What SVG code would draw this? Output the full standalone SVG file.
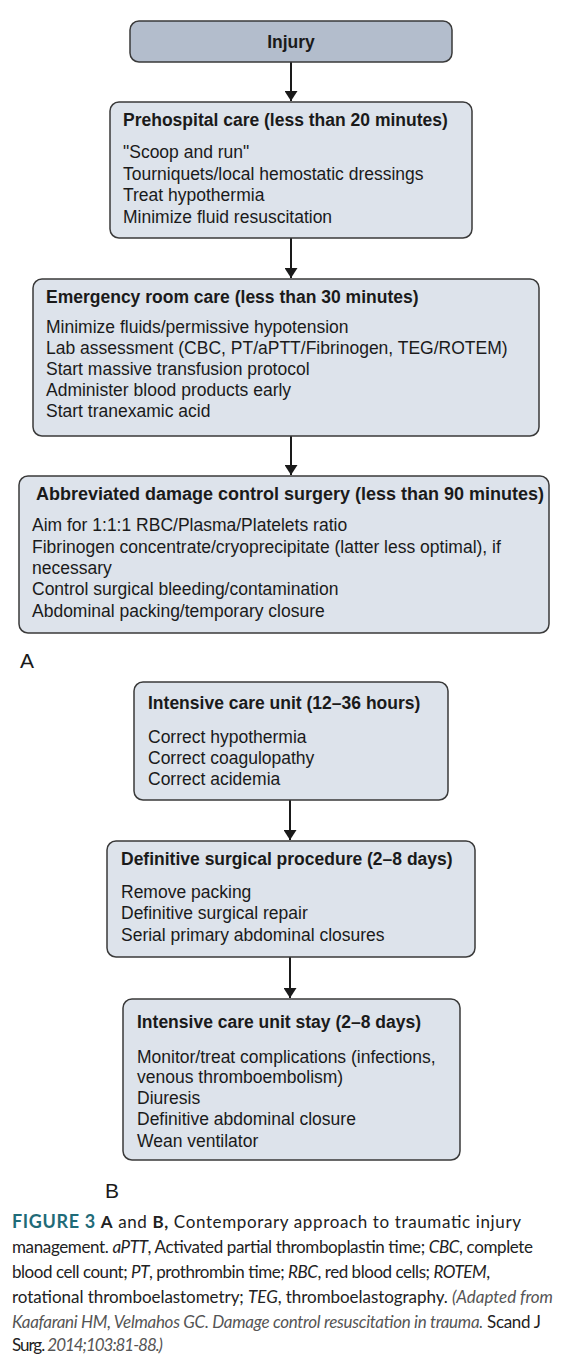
<svg xmlns="http://www.w3.org/2000/svg" width="577" height="1362" viewBox="0 0 577 1362">
<defs>
<style>
.box{fill:#dde3eb;stroke:#3a3a3a;stroke-width:1.5}
.top{fill:#b3bdcc;stroke:#3a3a3a;stroke-width:1.5}
.t{font-family:"Liberation Sans",Arial,sans-serif;font-size:17.5px;fill:#1a1a1a}
.b{font-weight:bold}
.lbl{font-family:"Liberation Sans",Arial,sans-serif;font-size:21px;fill:#1a1a1a}
.cap{font-family:Lato,"Open Sans",sans-serif;font-size:17px;fill:#222}
.fig{fill:#1f6b78;font-weight:bold;font-size:18px}
.i{font-style:italic}
.g{fill:#555}
.conn line{stroke:#1a1a1a;stroke-width:2}
</style>
<marker id="ah" viewBox="0 0 10 13" refX="10" refY="6.5" markerWidth="10" markerHeight="13" markerUnits="userSpaceOnUse" orient="auto">
<path d="M0,0 L10,6.5 L0,13 z" fill="#1a1a1a"/>
</marker>
</defs>
<rect width="577" height="1362" fill="#ffffff"/>

<g class="conn">
<line x1="291" y1="62" x2="291" y2="101" marker-end="url(#ah)"/>
<line x1="291" y1="238" x2="291" y2="278" marker-end="url(#ah)"/>
<line x1="291" y1="436" x2="291" y2="475" marker-end="url(#ah)"/>
<line x1="290" y1="800" x2="290" y2="840" marker-end="url(#ah)"/>
<line x1="290" y1="957" x2="290" y2="998" marker-end="url(#ah)"/>
</g>

<g id="injury">
<rect class="top" x="130" y="21" width="322" height="41" rx="9"/>
<text class="t b" x="291" y="48" text-anchor="middle">Injury</text>
</g>

<g id="prehospital">
<rect class="box" x="110" y="102" width="362" height="136" rx="9"/>
<text class="t b" x="123" y="126">Prehospital care (less than 20 minutes)</text>
<text class="t" x="123" y="158">"Scoop and run"</text>
<text class="t" x="123" y="180">Tourniquets/local hemostatic dressings</text>
<text class="t" x="123" y="201">Treat hypothermia</text>
<text class="t" x="123" y="223">Minimize fluid resuscitation</text>
</g>

<g id="emergency">
<rect class="box" x="33" y="279" width="506" height="157" rx="9"/>
<text class="t b" x="46" y="303">Emergency room care (less than 30 minutes)</text>
<text class="t" x="46" y="333">Minimize fluids/permissive hypotension</text>
<text class="t" x="46" y="354">Lab assessment (CBC, PT/aPTT/Fibrinogen, TEG/ROTEM)</text>
<text class="t" x="46" y="375">Start massive transfusion protocol</text>
<text class="t" x="46" y="396">Administer blood products early</text>
<text class="t" x="46" y="417">Start tranexamic acid</text>
</g>

<g id="surgery">
<rect class="box" x="19" y="476" width="530" height="157" rx="9"/>
<text class="t b" x="290" y="500" text-anchor="middle" textLength="508" lengthAdjust="spacingAndGlyphs">Abbreviated damage control surgery (less than 90 minutes)</text>
<text class="t" x="32" y="531">Aim for 1:1:1 RBC/Plasma/Platelets ratio</text>
<text class="t" x="32" y="553">Fibrinogen concentrate/cryoprecipitate (latter less optimal), if</text>
<text class="t" x="32" y="574">necessary</text>
<text class="t" x="32" y="595">Control surgical bleeding/contamination</text>
<text class="t" x="32" y="617">Abdominal packing/temporary closure</text>
</g>

<text class="lbl" x="20" y="668">A</text>

<g id="icu">
<rect class="box" x="134" y="682" width="314" height="118" rx="9"/>
<text class="t b" x="148" y="709">Intensive care unit (12–36 hours)</text>
<text class="t" x="148" y="743">Correct hypothermia</text>
<text class="t" x="148" y="764">Correct coagulopathy</text>
<text class="t" x="148" y="785">Correct acidemia</text>
</g>

<g id="definitive">
<rect class="box" x="107" y="841" width="368" height="116" rx="9"/>
<text class="t b" x="121" y="865">Definitive surgical procedure (2–8 days)</text>
<text class="t" x="121" y="898">Remove packing</text>
<text class="t" x="121" y="919">Definitive surgical repair</text>
<text class="t" x="121" y="941">Serial primary abdominal closures</text>
</g>

<g id="icustay">
<rect class="box" x="123" y="999" width="337" height="161" rx="9"/>
<text class="t b" x="137" y="1028">Intensive care unit stay (2–8 days)</text>
<text class="t" x="137" y="1063">Monitor/treat complications (infections,</text>
<text class="t" x="137" y="1083">venous thromboembolism)</text>
<text class="t" x="137" y="1104">Diuresis</text>
<text class="t" x="137" y="1125">Definitive abdominal closure</text>
<text class="t" x="137" y="1147">Wean ventilator</text>
</g>

<text class="lbl" x="105" y="1198">B</text>

<g id="caption">
<text class="cap" x="12" y="1228" textLength="509" lengthAdjust="spacing"><tspan class="fig">FIGURE 3</tspan>  <tspan font-weight="bold">A</tspan> and <tspan font-weight="bold">B,</tspan> Contemporary approach to traumatic injury</text>
<text class="cap" x="12" y="1253" textLength="521" lengthAdjust="spacing">management. <tspan class="i">aPTT</tspan>, Activated partial thromboplastin time; <tspan class="i">CBC</tspan>, complete</text>
<text class="cap" x="12" y="1278" textLength="478" lengthAdjust="spacing">blood cell count; <tspan class="i">PT</tspan>, prothrombin time; <tspan class="i">RBC</tspan>, red blood cells; <tspan class="i">ROTEM</tspan>,</text>
<text class="cap" x="12" y="1303" textLength="541" lengthAdjust="spacing">rotational thromboelastometry; <tspan class="i">TEG</tspan>, thromboelastography. <tspan class="i g">(Adapted from</tspan></text>
<text class="cap" x="12" y="1328" textLength="529" lengthAdjust="spacing"><tspan class="i g">Kaafarani HM, Velmahos GC. Damage control resuscitation in trauma.</tspan> Scand J</text>
<text class="cap" x="12" y="1351" textLength="151" lengthAdjust="spacing">Surg. <tspan class="i g">2014;103:81-88.)</tspan></text>
</g>
</svg>
